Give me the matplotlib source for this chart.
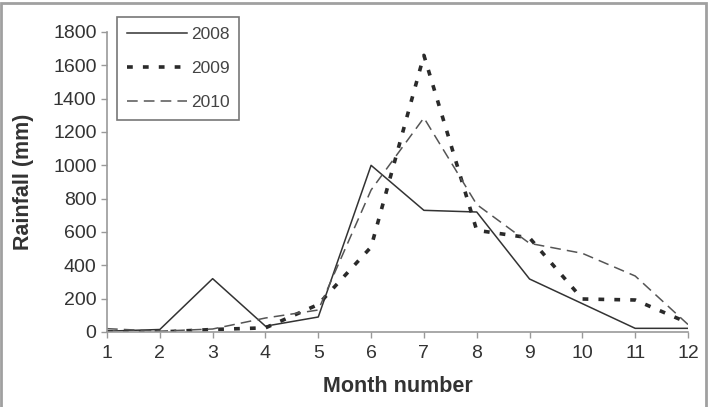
import matplotlib
matplotlib.use("Agg")
import matplotlib.pyplot as plt
from matplotlib.patches import Rectangle

plt.rcParams["font.family"] = ["Liberation Sans", "DejaVu Sans"]

months = [1, 2, 3, 4, 5, 6, 7, 8, 9, 10, 11, 12]
rain_2008 = [5, 15, 320, 35, 90, 1000, 730, 720, 318, 170, 22, 22]
rain_2009 = [0, 0, 15, 25, 165, 510, 1660, 610, 565, 198, 192, 55]
rain_2010 = [20, 5, 18, 84, 132, 852, 1285, 765, 532, 472, 336, 45]
yticks = [0, 200, 400, 600, 800, 1000, 1200, 1400, 1600, 1800]

W, H = 712, 407
fig = plt.figure(figsize=(W / 100, H / 100), dpi=100)
fig.patch.set_facecolor("white")
fig.patches.append(Rectangle((1 / W, -0.02), 705 / W, (H - 3) / H + 0.02,
                             transform=fig.transFigure, fill=False,
                             edgecolor="#a0a0a0", linewidth=2.0))

ax = fig.add_axes([107 / W, (H - 332) / H, (688 - 107) / W, 300 / H])
ax.plot(months, rain_2008, color="#333333", lw=1.1, linestyle="-", label="2008")
ax.plot(months, rain_2009, color="#2a2a2a", lw=2.6, linestyle=(0, (1.6, 2.8)), label="2009")
ax.plot(months, rain_2010, color="#555555", lw=1.1, linestyle=(0, (7, 4)), label="2010")

ax.set_xlim(1, 12)
ax.set_ylim(0, 1800)
ax.set_xticks(months)
ax.set_yticks(yticks)
ax.tick_params(axis="both", colors="#999999", labelcolor="#333333", labelsize=14,
               length=4, width=1, direction="out")
ax.tick_params(axis="x", pad=5)
for s in ["top", "right"]:
    ax.spines[s].set_visible(False)
for s in ["left", "bottom"]:
    ax.spines[s].set_color("#999999")
    ax.spines[s].set_linewidth(1.2)

ax.set_xlabel("Month number", fontsize=15.5, fontweight="bold", color="#333333")
ax.set_ylabel("Rainfall (mm)", fontsize=15.5, fontweight="bold", color="#333333")
ax.xaxis.set_label_coords((397.5 - 107) / 581, (332 - 387) / 300)
ax.yaxis.set_label_coords((23 - 107) / 581, 0.5)
ax.xaxis.label.set_va("center")
ax.yaxis.label.set_va("center")

leg = ax.legend(loc="upper left", bbox_to_anchor=(117 / W, (H - 17) / H),
                bbox_transform=fig.transFigure, fontsize=12.5, frameon=True,
                fancybox=False, handlelength=3.5, handletextpad=0.2,
                borderpad=0.55, labelspacing=1.1, borderaxespad=0)
leg.get_frame().set_edgecolor("#555555")
leg.get_frame().set_linewidth(1.2)
for t in leg.get_texts():
    t.set_color("#444444")

fig.savefig("out.png", dpi=100, facecolor="white")
